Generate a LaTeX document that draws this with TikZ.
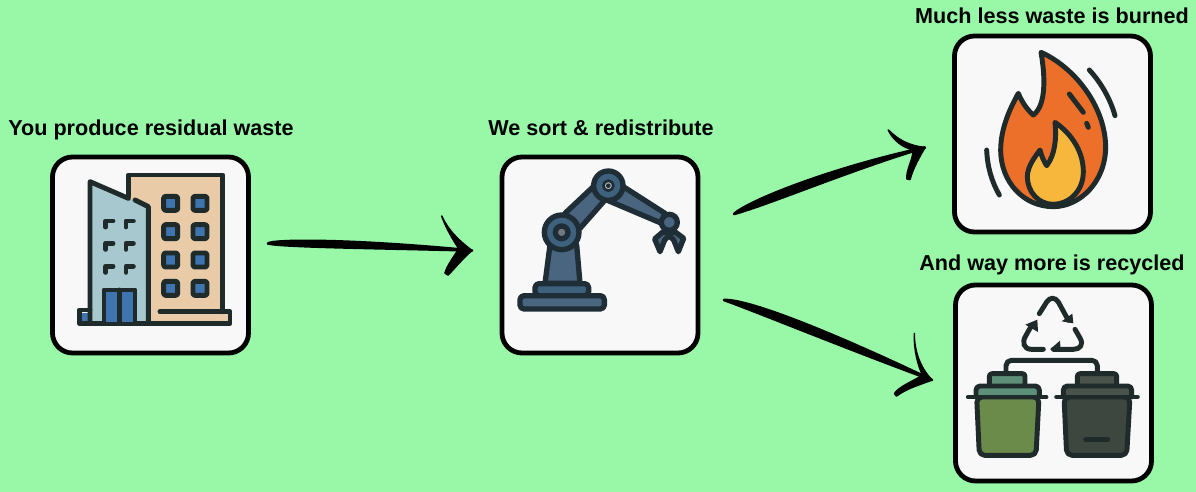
\documentclass[tikz,border=0pt]{standalone}
\usepackage{fontspec}
\setmainfont{Liberation Sans}
\definecolor{lawn}{HTML}{98F8A8}
\definecolor{card}{HTML}{F8F8F8}
\definecolor{ink}{HTML}{1F2A2A}
\definecolor{tan}{HTML}{E9CBA7}
\definecolor{glass}{HTML}{A6C8CE}
\definecolor{pane}{HTML}{3F74AE}
\definecolor{steel}{HTML}{4A6580}
\definecolor{steeldark}{HTML}{3E617E}
\definecolor{robotink}{HTML}{1F2E36}
\definecolor{flame}{HTML}{EC6F2A}
\definecolor{ember}{HTML}{F6B73C}
\definecolor{bingreen}{HTML}{6A8B49}
\definecolor{binlid}{HTML}{5E8F78}
\definecolor{bindark}{HTML}{3E4640}
\definecolor{binlidark}{HTML}{4A524C}
\begin{document}
\begin{tikzpicture}[x=0.75pt, y=-0.75pt,
      card/.style = {
        rectangle, draw=black, line width=3.6pt, fill=card,
        rounded corners=15pt, minimum width=147pt, minimum height=147pt },
      title/.style = { font=\bfseries\fontsize{16.2}{18}\selectfont, text=black, inner sep=0pt, anchor=base },
      brush/.style = { draw=black, fill=black, line width=2pt, line join=round },
      barb/.style = { draw=black, fill=black, line width=1.2pt, line join=round },
      icon/.style = { x=0.25pt, y=-0.25pt, line width=3.7pt, line join=round, line cap=round },
      ikline/.style = { draw=ink },
      robotline/.style = { draw=robotink, line width=4pt }]
    \useasboundingbox (0,0) rectangle (1196,492);
    \fill[lawn] (0,0) rectangle (1196,492);
    \node [card] (buildingbox) at (150.5,255) {};
    \node [card] (robotbox) at (600,255) {};
    \node [card] (flamebox) at (1052.5,134) {};
    \node [card] (binsbox) at (1053.5,383) {};
    \node [title] (buildingtitle) at (151,135.5) {You produce residual waste};
    \node [title] (robottitle) at (601,135.5) {We sort \& redistribute};
    \node [title] (flametitle) at (1052,24) {Much less waste is burned};
    \node [title] (binstitle) at (1052,270) {And way more is recycled};
    % free ends of the three brush arrows
    \coordinate (sortstart) at (268,243.5);
    \coordinate (sortend) at (472,250.5);
    \coordinate (burnstart) at (734,214);
    \coordinate (burnend) at (925,147.5);
    \coordinate (recyclestart) at (724,300);
    \coordinate (recycleend) at (932,380);
    \draw[brush] (sortstart) .. controls (272,240) and (340,238) .. (sortend)
      .. controls (380,248) and (285,247) .. (sortstart) -- cycle;
    \path[barb] (441.7,216) .. controls (448,230) and (458,240) .. (sortend)
      -- (461,252) .. controls (453,240) and (446,228) .. cycle;
    \path[barb] (445,273) -- (448,275) .. controls (455,268) and (463,258) .. (sortend)
      -- (458,250) .. controls (453,258) and (447,266) .. cycle;
    \draw[brush] (burnstart) .. controls (748,201) and (830,168) .. (burnend)
      .. controls (850,170) and (770,204) .. (burnstart) -- cycle;
    \path[barb] (888.3,130) .. controls (898,140) and (910,146) .. (burnend)
      -- (914,150) .. controls (903,148) and (893,140) .. cycle;
    \path[barb] (907,179) -- (910,179.5) .. controls (913,168) and (920,156) .. (burnend)
      -- (913,151) .. controls (913,160) and (906,170) .. cycle;
    \draw[brush] (recyclestart) .. controls (750,299) and (840,336) .. (recycleend)
      .. controls (850,350) and (760,313) .. (recyclestart) -- cycle;
    \path[barb] (914.3,333.5) .. controls (914,350) and (920,368) .. (recycleend)
      -- (924,378) .. controls (917,365) and (914,348) .. cycle;
    \path[barb] (894.5,393.5) -- (896.5,396) .. controls (907,388) and (922,384) .. (recycleend)
      -- (921,376) .. controls (912,382) and (900,386) .. cycle;
    % building, in units of a third of a pixel
    \begin{scope}[shift={(40,145)}, icon]
      \fill[tan] (265,90) rectangle (548,530);
      \fill[tan] (330,500) rectangle (570,535);
      \draw[ikline] (265,155) -- (265,90) -- (548,90) -- (548,500);
      \fill[glass] (150,110) -- (265,160) -- (325,185) -- (325,530) -- (150,530) -- cycle;
      \fill[pane] (125,503) rectangle (143,528);
      \draw[ikline] (360,500) -- (570,500) -- (570,535) -- (118,535) -- (118,495) -- (150,495);
      \draw[ikline] (150,530) -- (150,110) -- (265,160);
      \draw[ikline] (285,165) -- (325,185) -- (325,530);
      \fill[pane] (196,438) rectangle (280,530);
      \draw[ikline] (192,530) -- (192,435) -- (285,435) -- (285,530);
      \draw[ikline] (238,435) -- (238,530);
      \foreach \wx in {392,480}
        \foreach \wy in {175,260,345,430}
          \draw[ikline, fill=pane, rounded corners=1.5pt] (\wx-21,\wy-21) rectangle (\wx+21,\wy+21);
      \foreach \wx in {197,258}
        \foreach \wy in {228,295,364}
          \draw[ikline] (\wx,\wy+18) -- (\wx,\wy) -- (\wx+22,\wy);
    \end{scope}
    % robot arm
    \begin{scope}[shift={(490,145)}, icon]
      \draw[robotline, fill=steel] (165,415) -- (180,300) -- (260,300) -- (270,415) -- cycle;
      \draw[robotline, fill=steeldark, rounded corners=3pt] (135,452) -- (135,416) -- (296,416) -- (296,452) -- cycle;
      \draw[robotline, fill=steel, rounded corners=3pt] (90,452) rectangle (343,492);
      \draw[robotline, fill=steel] (225,205) -- (310,125) -- (345,165) -- (270,250) -- cycle;
      \draw[robotline, fill=steel] (400,125) -- (525,205) -- (515,235) -- (350,165) -- cycle;
      \draw[robotline, fill=steel] (517,262) -- (494,282) -- (510,320) -- (524,285) -- (537,272)
        -- (551,285) -- (565,320) -- (581,280) -- (557,262) -- cycle;
      \draw[robotline, fill=steel] (538,232) circle [radius=24];
      \draw[robotline, fill=steeldark] (215,262) circle [radius=52];
      \draw[robotline, fill=gray!75!steel] (215,262) circle [radius=19];
      \draw[robotline, fill=steeldark] (355,122) circle [radius=44];
      \draw[robotline, line width=2pt, fill=gray!50] (355,122) circle [radius=15];
      \fill[robotink] (355,122) circle [radius=7];
    \end{scope}
    % flame
    \begin{scope}[shift={(940,25)}, icon]
      \draw[ink, fill=flame] (303,82) .. controls (400,125) and (495,240) .. (497,365)
        .. controls (497,470) and (420,545) .. (340,545)
        .. controls (250,545) and (182,470) .. (182,375)
        .. controls (182,310) and (210,250) .. (235,205)
        .. controls (245,230) and (262,255) .. (280,270)
        .. controls (320,240) and (315,150) .. cycle;
      \draw[ink, fill=ember] (345,292) .. controls (400,330) and (430,385) .. (430,440)
        .. controls (430,500) and (385,538) .. (340,538)
        .. controls (295,538) and (262,500) .. (262,455)
        .. controls (262,425) and (285,395) .. (300,375)
        .. controls (305,395) and (312,410) .. (320,422)
        .. controls (345,390) and (350,340) .. cycle;
      \draw[ink] (388,207) -- (430,262);
      \draw[ink] (440,295) -- (445,307);
      \draw[ink] (448,135) .. controls (485,175) and (512,225) .. (525,272);
      \draw[ink] (140,375) .. controls (142,425) and (155,470) .. (178,510);
    \end{scope}
    % recycling mark and the two bins
    \begin{scope}[shift={(940,272)}, icon]
      \draw[ink] (298,125) -- (320,90) .. controls (330,75) and (345,75) .. (355,90) -- (385,145);
      \fill[ink] (397,125) -- (365,148) -- (400,154) -- cycle;
      \draw[ink] (310,232) -- (275,232) .. controls (250,232) and (245,210) .. (258,190) -- (275,160);
      \fill[ink] (256,158) -- (292,143) -- (294,180) -- cycle;
      \draw[ink] (405,172) -- (420,198) .. controls (432,218) and (420,232) .. (400,232) -- (340,232);
      \fill[ink] (360,206) -- (330,232) -- (362,238) -- cycle;
      \draw[ink, rounded corners=4pt] (198,300) -- (198,265) -- (472,265) -- (472,300);
      % green bin
      \draw[ink, fill=binlid, rounded corners=2pt] (148,342) -- (148,305) -- (255,305) -- (255,342);
      \draw[ink, fill=bingreen, rounded corners=4pt] (110,375) -- (118,550) -- (288,550) -- (297,375) -- cycle;
      \draw[ink, fill=binlid, rounded corners=3pt] (108,375) -- (108,342) -- (298,342) -- (298,375);
      \draw[ink] (85,375) -- (318,375);
      % dark bin
      \draw[ink, fill=binlidark, rounded corners=2pt] (412,342) -- (412,305) -- (530,305) -- (530,342);
      \draw[ink, fill=bindark, rounded corners=4pt] (372,375) -- (380,550) -- (560,550) -- (570,375) -- cycle;
      \draw[ink, fill=binlidark, rounded corners=3pt] (370,375) -- (370,342) -- (575,342) -- (575,375);
      \draw[ink] (350,375) -- (592,375);
      \draw[ink] (437,503) -- (503,503);
    \end{scope}
  \end{tikzpicture}
\end{document}
